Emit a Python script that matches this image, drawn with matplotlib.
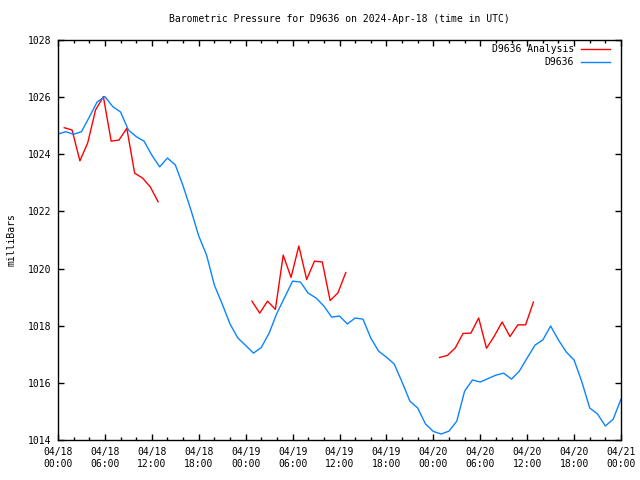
import matplotlib
matplotlib.use("Agg")
import matplotlib.pyplot as plt
import numpy as np
from matplotlib.lines import Line2D

# hours after 2024-04-18 00:00 UTC
obs_hours = list(range(0, 73))
obs_mb = [1024.71, 1024.79, 1024.70, 1024.79, 1025.30, 1025.83, 1026.02, 1025.67, 1025.48, 1024.85,
          1024.62, 1024.46, 1023.97, 1023.56, 1023.87, 1023.63, 1022.89, 1022.05, 1021.14, 1020.47,
          1019.42, 1018.76, 1018.06, 1017.57, 1017.31, 1017.04, 1017.24, 1017.74, 1018.44, 1019.00,
          1019.56, 1019.53, 1019.14, 1018.97, 1018.69, 1018.30, 1018.34, 1018.06, 1018.27, 1018.23,
          1017.57, 1017.11, 1016.90, 1016.66, 1016.03, 1015.36, 1015.12, 1014.56, 1014.30, 1014.21,
          1014.31, 1014.66, 1015.71, 1016.10, 1016.03, 1016.15, 1016.27, 1016.34, 1016.13, 1016.41,
          1016.87, 1017.32, 1017.50, 1017.99, 1017.50, 1017.08, 1016.80, 1016.03, 1015.12, 1014.91,
          1014.49, 1014.73, 1015.43]

# analysis runs (three separate pieces)
ana1_hours = [0.8, 1.8, 2.8, 3.8, 4.8, 5.8, 6.8, 7.8, 8.8, 9.8, 10.8, 11.8, 12.8]
ana1_mb = [1024.93, 1024.85, 1023.77, 1024.40, 1025.55, 1026.02, 1024.46, 1024.50, 1024.91,
           1023.34, 1023.17, 1022.86, 1022.34]
ana2_hours = [24.8, 25.8, 26.8, 27.8, 28.8, 29.8, 30.8, 31.8, 32.8, 33.8, 34.8, 35.8, 36.8]
ana2_mb = [1018.86, 1018.44, 1018.86, 1018.57, 1020.47, 1019.69, 1020.79, 1019.62, 1020.26,
           1020.23, 1018.88, 1019.15, 1019.86]
ana3_hours = [48.8, 49.8, 50.8, 51.8, 52.8, 53.8, 54.8, 55.8, 56.8, 57.8, 58.8, 59.8, 60.8]
ana3_mb = [1016.89, 1016.96, 1017.22, 1017.73, 1017.74, 1018.27, 1017.21, 1017.64, 1018.13,
           1017.62, 1018.03, 1018.03, 1018.83]

tick_hours = list(range(0, 73, 6))
tick_labels = ["04/18\n00:00", "04/18\n06:00", "04/18\n12:00", "04/18\n18:00",
               "04/19\n00:00", "04/19\n06:00", "04/19\n12:00", "04/19\n18:00",
               "04/20\n00:00", "04/20\n06:00", "04/20\n12:00", "04/20\n18:00",
               "04/21\n00:00"]
y_ticks = [1014, 1016, 1018, 1020, 1022, 1024, 1026, 1028]

red = "#ff0000"
blue = "#0a84ff"
mono = "DejaVu Sans Mono"
fs = 7

plt.rcParams['font.family'] = mono
fig = plt.figure(figsize=(6.4, 4.8), dpi=100)
ax = fig.add_axes([58/640, 40/480, 563/640, 400/480])

for h, v in [(ana1_hours, ana1_mb), (ana2_hours, ana2_mb), (ana3_hours, ana3_mb)]:
    ax.plot(h, v, color=red, lw=1.0)
ax.plot(obs_hours, obs_mb, color=blue, lw=1.0)

ax.set_xlim(0, 72)
ax.set_ylim(1014, 1028)
ax.set_xticks(tick_hours)
ax.set_xticklabels(tick_labels, fontsize=fs, linespacing=1.25)
ax.set_xticks(range(0, 73, 2), minor=True)
ax.set_yticks(y_ticks)
ax.set_yticklabels([str(t) for t in y_ticks], fontsize=fs)
ax.tick_params(which="both", direction="in", top=True, right=True, width=1, color="black")
ax.tick_params(which="major", length=4, pad=5)
ax.tick_params(which="minor", length=2)
for s in ax.spines.values():
    s.set_linewidth(1)

ax.set_ylabel("milliBars", fontsize=fs, labelpad=8)

fig.text(339.5/640, 1 - 19/480, "Barometric Pressure for D9636 on 2024-Apr-18 (time in UTC)",
         ha="center", va="center", fontsize=fs)

# key in the top right corner
ax.text(0.9165, 0.9775, "D9636 Analysis", transform=ax.transAxes, ha="right", va="center", fontsize=fs)
ax.text(0.9165, 0.945, "D9636", transform=ax.transAxes, ha="right", va="center", fontsize=fs)
ax.add_line(Line2D([0.929, 0.980], [0.9775, 0.9775], transform=ax.transAxes, color=red, lw=1.0))
ax.add_line(Line2D([0.929, 0.980], [0.945, 0.945], transform=ax.transAxes, color=blue, lw=1.0))

fig.savefig("out.png", dpi=100)
